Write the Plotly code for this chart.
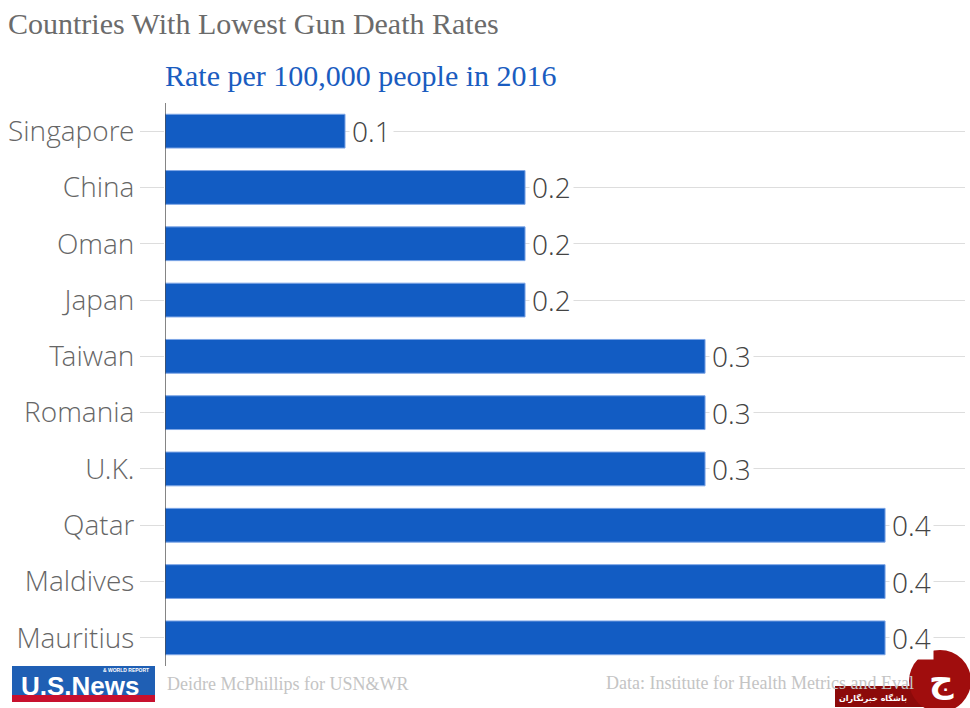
import plotly.graph_objects as go

countries = ["Singapore", "China", "Oman", "Japan", "Taiwan", "Romania", "U.K.", "Qatar", "Maldives", "Mauritius"]
rates = [0.1, 0.2, 0.2, 0.2, 0.3, 0.3, 0.3, 0.4, 0.4, 0.4]
value_labels = ["0.1", "0.2", "0.2", "0.2", "0.3", "0.3", "0.3", "0.4", "0.4", "0.4"]

title_text = "Countries With Lowest Gun Death Rates"
subtitle_text = "Rate per 100,000 people in 2016"
credit_text = "Deidre McPhillips for USN&WR"
source_text = "Data: Institute for Health Metrics and Eval"

W, H = 970, 708
L, R, T, B = 165, 965, 103, 666
light = "Open Sans Light, Open Sans"

def px(x):
    return (x - L) / (R - L)

def py(y):
    return (B - y) / (B - T)

fig = go.Figure()
fig.add_trace(go.Bar(
    x=rates, y=countries, orientation="h",
    marker=dict(color="#125cc3", line=dict(color="#7ea6e6", width=1)),
    width=0.6, hoverinfo="skip",
))

for c, v, lab in zip(countries, rates, value_labels):
    fig.add_annotation(x=v, y=c, xref="x", yref="y", text=lab, showarrow=False,
                       xanchor="left", yanchor="middle", xshift=4, bgcolor="white",
                       borderpad=2,
                       font=dict(family=light, size=28, color="#444444", weight=300))

serif = "Liberation Serif"

def note(x, y, text, size, color, family=serif, xanchor="left"):
    fig.add_annotation(x=px(x), y=py(y), xref="paper", yref="paper", text=text, showarrow=False,
                       xanchor=xanchor, yanchor="middle", borderpad=0,
                       font=dict(family=family, size=size, color=color))

note(7, 24, title_text, 30, "#6b6b6b")
note(164, 75, subtitle_text, 30, "#1a5cc0")
note(166, 684, credit_text, 18, "#c4c4c4")
note(605, 683, source_text, 18, "#c4c4c4")

# US News logo
fig.add_shape(type="rect", xref="paper", yref="paper", x0=px(12), x1=px(155), y0=py(695), y1=py(666),
              fillcolor="#1f5fb4", line=dict(width=0), layer="above")
fig.add_shape(type="rect", xref="paper", yref="paper", x0=px(12), x1=px(155), y0=py(702), y1=py(695),
              fillcolor="#c8102e", line=dict(width=0), layer="above")
note(80, 686, "<b>U.S.News</b>", 26, "white", family="Liberation Sans Narrow, Liberation Sans", xanchor="center")
note(150, 670, "<b>& WORLD REPORT</b>", 5, "white", family="Liberation Sans", xanchor="right")

# watermark
fig.add_shape(type="rect", xref="paper", yref="paper", x0=px(835), x1=px(935), y0=py(707), y1=py(686),
              fillcolor="#8c0a0a", line=dict(width=0), layer="above")
fig.add_shape(type="circle", xref="paper", yref="paper", x0=px(909), x1=px(971), y0=py(712), y1=py(650),
              fillcolor="#a00d0d", line=dict(width=0), layer="above")
note(873, 698, "<b>باشگاه خبرنگاران</b>", 8, "white", family="DejaVu Sans", xanchor="center")
note(941, 680, "<b>ج</b>", 34, "white", family="DejaVu Sans", xanchor="center")

fig.add_shape(type="line", xref="x", yref="paper", x0=0, x1=0, y0=0, y1=1,
              line=dict(color="#333333", width=1.2), layer="above")

fig.update_layout(
    width=W, height=H,
    margin=dict(l=L, r=W - R, t=T, b=H - B),
    paper_bgcolor="white", plot_bgcolor="white",
    showlegend=False,
    xaxis=dict(range=[0, 0.4444], showgrid=False, zeroline=False, showticklabels=False,
               ticks="", showline=False, fixedrange=True),
    yaxis=dict(categoryorder="array", categoryarray=countries[::-1], autorange=True,
               showgrid=True, gridcolor="#dddddd", gridwidth=1,
               ticks="outside", ticklen=24, tickcolor="#dddddd", tickwidth=1,
               showline=False, zeroline=False,
               tickfont=dict(family=light, size=28, color="#666666", weight=300),
               ticklabelstandoff=0, fixedrange=True),
)

fig.write_html("out.html")
